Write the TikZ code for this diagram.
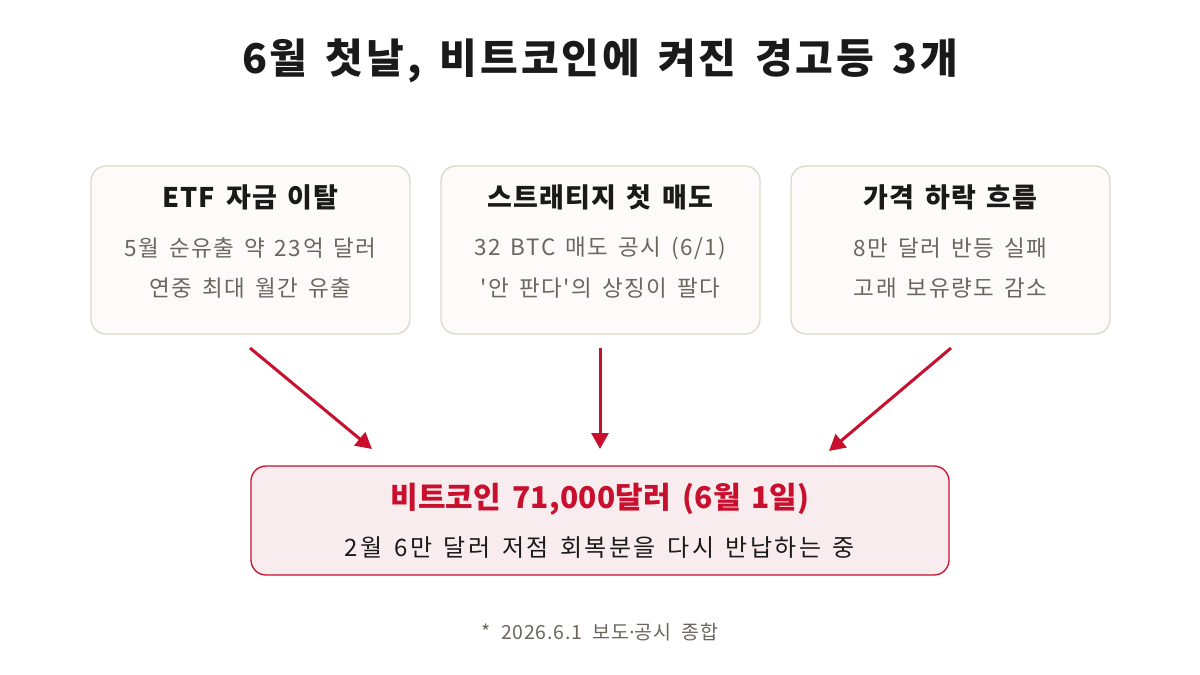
\documentclass[tikz,border=0pt]{standalone}
\usepackage{fontspec}
\setmainfont{Noto Sans CJK KR}[Ligatures=TeXOff]
\newfontfamily\dotfont{Noto Sans}
\usetikzlibrary{arrows.meta}
\newcommand{\widespace}[1]{\spaceskip=#1\fontdimen2\font\relax}
\definecolor{ink}{HTML}{1A1A1A}
\definecolor{muted}{HTML}{6B675F}
\definecolor{cardfill}{HTML}{FCFBF9}
\definecolor{cardline}{HTML}{DDD8CC}
\definecolor{alert}{HTML}{C8102E}
\definecolor{alertfill}{HTML}{F9ECEE}
\tikzset{
  card/.style={draw=cardline, line width=1.3pt, fill=cardfill, rounded corners=15pt,
    minimum width=319pt, minimum height=168pt, inner sep=0pt},
  result/.style={draw=alert, line width=1.3pt, fill=alertfill, rounded corners=15pt,
    minimum width=698pt, minimum height=109pt, inner sep=0pt},
  cardtitle/.style={font=\fontsize{27}{32}\selectfont\bfseries\addfontfeatures{LetterSpace=4}\widespace{1.5}, text=ink, inner sep=0pt},
  cardbody/.style={font=\fontsize{22.5}{27}\selectfont\addfontfeatures{LetterSpace=7}\widespace{1.5}, text=muted, inner sep=0pt},
  flow/.style={draw=alert, line width=3pt, -{Triangle[length=16pt,width=17pt]}},
}
\begin{document}
\begin{tikzpicture}[x=1pt,y=-1pt]
\useasboundingbox (0,0) rectangle (1200,675);
\fill[white] (0,0) rectangle (1200,675);
\node[font=\fontsize{41}{48}\selectfont\bfseries\addfontfeatures{LetterSpace=7}\widespace{1.5}, text=ink, inner sep=0pt] (title) at (600,61) {6월 첫날, 비트코인에 켜진 경고등 3개};

\node[card] (c1) at (250.5,250) {};
\node[card] (c2) at (600.5,250) {};
\node[card] (c3) at (950.5,250) {};

\node[cardtitle] (t1) at (250.5,197) {ETF 자금 이탈};
\node[cardbody] (a1) at (250.5,248) {5월 순유출 약 23억 달러};
\node[cardbody] (b1) at (250.5,288) {연중 최대 월간 유출};

\node[cardtitle] (t2) at (600.5,197) {스트래티지 첫 매도};
\node[cardbody] (a2) at (600.5,248) {32 BTC 매도 공시 (6/1)};
\node[cardbody] (b2) at (600.5,288) {'안 판다'의 상징이 팔다};

\node[cardtitle] (t3) at (950.5,197) {가격 하락 흐름};
\node[cardbody] (a3) at (950.5,248) {8만 달러 반등 실패};
\node[cardbody] (b3) at (950.5,288) {고래 보유량도 감소};

\node[result] (r) at (600,520.5) {};
\node[font=\fontsize{30}{36}\selectfont\bfseries\addfontfeatures{LetterSpace=1}\widespace{1.5}, text=alert, inner sep=0pt] (rt) at (600,499) {비트코인 71,000달러 (6월 1일)};
\node[font=\fontsize{24}{29}\selectfont\addfontfeatures{LetterSpace=10}\widespace{1.5}, text=ink, inner sep=0pt] (rs) at (600,548) {2월 6만 달러 저점 회복분을 다시 반납하는 중};

\node[font=\fontsize{19.5}{23}\selectfont\addfontfeatures{LetterSpace=4}\widespace{2}, text=muted, inner sep=0pt] (note) at (600,632) {* 2026.6.1 보도{\dotfont ·}공시 종합};

\coordinate (s1) at (250,348);
\coordinate (e1) at (372,449);
\coordinate (s2) at (600,348);
\coordinate (e2) at (600,449);
\coordinate (s3) at (951,348);
\coordinate (e3) at (829,451);
\draw[flow] (s1) -- (e1);
\draw[flow] (s2) -- (e2);
\draw[flow] (s3) -- (e3);
\end{tikzpicture}
\end{document}
